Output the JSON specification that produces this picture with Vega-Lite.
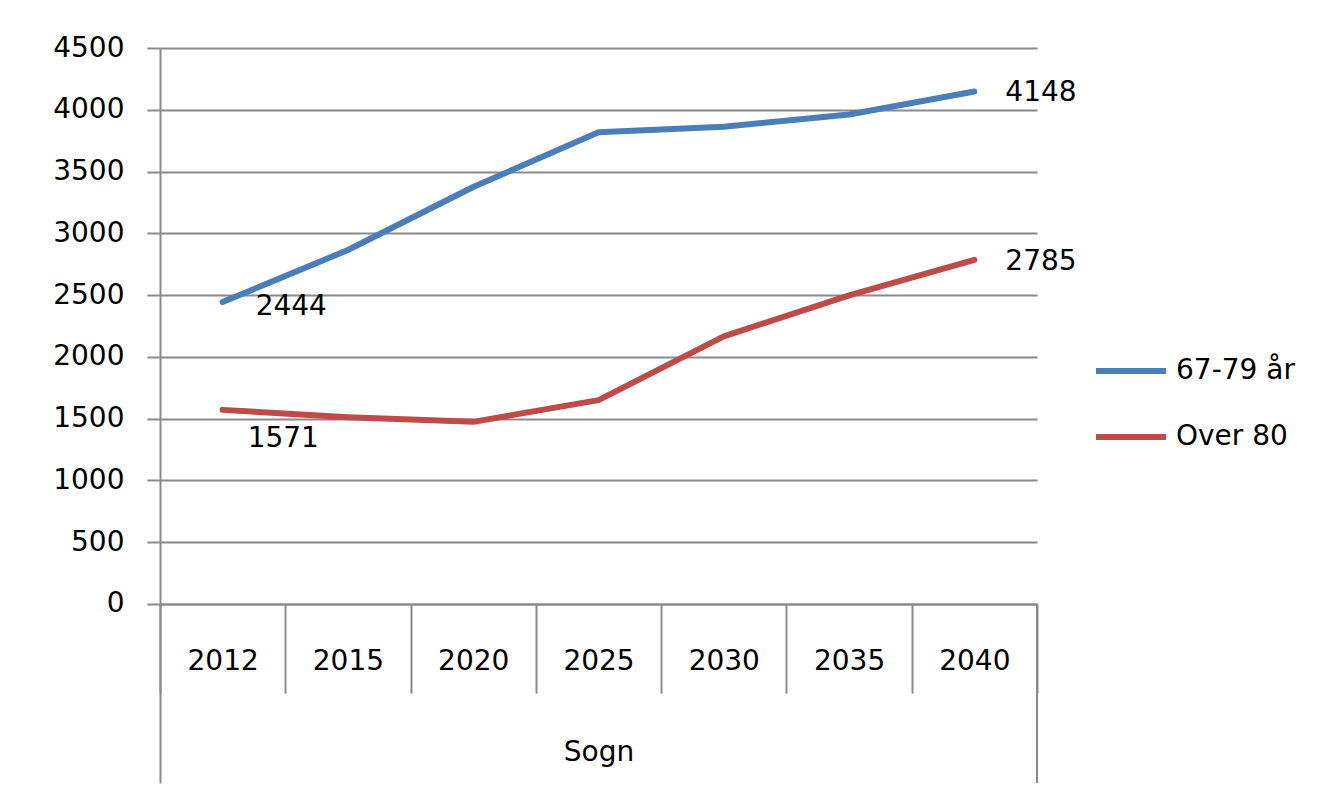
{
  "$schema": "https://vega.github.io/schema/vega-lite/v6.json",
  "autosize": "none",
  "width": 877,
  "height": 735,
  "padding": {"left": 160, "top": 48, "right": 282, "bottom": 14},
  "background": "white",
  "config": {
    "font": "DejaVu Sans",
    "view": {"stroke": null},
    "axis": {"labelFont": "DejaVu Sans", "titleFont": "DejaVu Sans", "labelColor": "black", "titleColor": "black"}
  },
  "data": {
    "values": [
      {"year": "2012", "series": "67-79 år", "value": 2444},
      {"year": "2015", "series": "67-79 år", "value": 2865},
      {"year": "2020", "series": "67-79 år", "value": 3375},
      {"year": "2025", "series": "67-79 år", "value": 3818},
      {"year": "2030", "series": "67-79 år", "value": 3862},
      {"year": "2035", "series": "67-79 år", "value": 3962},
      {"year": "2040", "series": "67-79 år", "value": 4148},
      {"year": "2012", "series": "Over 80", "value": 1571},
      {"year": "2015", "series": "Over 80", "value": 1512},
      {"year": "2020", "series": "Over 80", "value": 1474},
      {"year": "2025", "series": "Over 80", "value": 1650},
      {"year": "2030", "series": "Over 80", "value": 2166},
      {"year": "2035", "series": "Over 80", "value": 2498},
      {"year": "2040", "series": "Over 80", "value": 2785}
    ]
  },
  "encoding": {
    "x": {
      "field": "year", "type": "ordinal",
      "scale": {"type": "band", "paddingInner": 0, "paddingOuter": 0},
      "axis": {
        "orient": "bottom", "offset": -179, "labelAngle": 0,
        "tickBand": "extent", "tickSize": 89, "tickWidth": 2, "tickColor": "#8a8a8a",
        "domainColor": "#8a8a8a", "domainWidth": 2,
        "labelFontSize": 28, "labelBaseline": "middle", "labelPadding": -32,
        "title": "Sogn", "titleFontSize": 28, "titleFontWeight": "normal", "titlePadding": 44,
        "grid": false
      }
    },
    "y": {
      "field": "value", "type": "quantitative",
      "scale": {"domain": [-1449, 4500], "nice": false, "zero": false},
      "axis": {
        "values": [0, 500, 1000, 1500, 2000, 2500, 3000, 3500, 4000, 4500],
        "format": "d",
        "grid": true, "gridColor": "#8a8a8a", "gridWidth": 2,
        "tickSize": 13, "tickWidth": 2, "tickColor": "#8a8a8a",
        "domainColor": "#8a8a8a", "domainWidth": 2,
        "labelFontSize": 28, "labelPadding": 23, "title": null
      }
    }
  },
  "layer": [
    {
      "mark": {"type": "line", "strokeWidth": 6, "strokeCap": "round", "strokeJoin": "round"},
      "encoding": {
        "color": {
          "field": "series", "type": "nominal",
          "scale": {"domain": ["67-79 år", "Over 80"], "range": ["#4a7ebb", "#be4b48"]},
          "legend": {
            "title": null, "orient": "none", "legendX": 933, "legendY": 285,
            "padding": 0, "symbolSize": 4900, "symbolStrokeWidth": 6, "symbolType": "stroke",
            "labelFontSize": 28, "labelFont": "DejaVu Sans", "labelColor": "black", "labelOffset": 7, "rowPadding": 14
          }
        }
      }
    },
    {
      "transform": [{"filter": "datum.year == '2040'"}],
      "mark": {"type": "text", "align": "left", "baseline": "middle", "dx": 31, "dy": 2, "fontSize": 28, "color": "black"},
      "encoding": {"text": {"field": "value", "type": "quantitative", "format": "d"}}
    },
    {
      "transform": [{"filter": "datum.year == '2012' && datum.series == '67-79 år'"}],
      "mark": {"type": "text", "align": "left", "baseline": "middle", "dx": 33, "dy": 5, "fontSize": 28, "color": "black"},
      "encoding": {"text": {"field": "value", "type": "quantitative", "format": "d"}}
    },
    {
      "transform": [{"filter": "datum.year == '2012' && datum.series == 'Over 80'"}],
      "mark": {"type": "text", "align": "left", "baseline": "middle", "dx": 25, "dy": 29, "fontSize": 28, "color": "black"},
      "encoding": {"text": {"field": "value", "type": "quantitative", "format": "d"}}
    },
    {
      "mark": {"type": "rule", "stroke": "#8a8a8a", "strokeWidth": 2},
      "encoding": {
        "x": {"datum": "2040", "type": "ordinal", "bandPosition": 1},
        "y": {"datum": 0, "type": "quantitative"},
        "y2": {"datum": -1449}
      }
    }
  ]
}
